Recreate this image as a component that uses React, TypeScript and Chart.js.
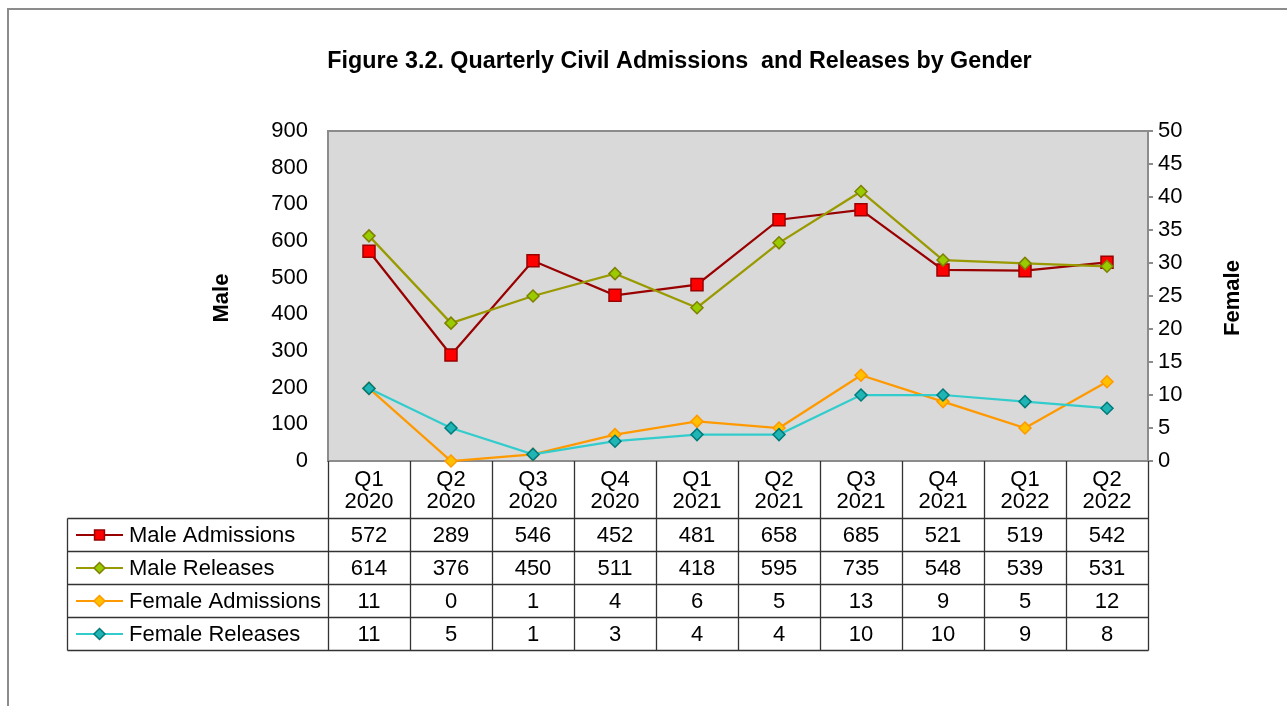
import React, { useEffect, useRef } from "react";
import { Chart, registerables } from "chart.js";

Chart.register(...registerables);

const chartTitle = "Figure 3.2. Quarterly Civil Admissions  and Releases by Gender";
const quarterLabels = ["Q1", "Q2", "Q3", "Q4", "Q1", "Q2", "Q3", "Q4", "Q1", "Q2"];
const yearLabels = ["2020", "2020", "2020", "2020", "2021", "2021", "2021", "2021", "2022", "2022"];
const maleAdmissions = [572, 289, 546, 452, 481, 658, 685, 521, 519, 542];
const maleReleases = [614, 376, 450, 511, 418, 595, 735, 548, 539, 531];
const femaleAdmissions = [11, 0, 1, 4, 6, 5, 13, 9, 5, 12];
const femaleReleases = [11, 5, 1, 3, 4, 4, 10, 10, 9, 8];
const seriesNames = ["Male Admissions", "Male Releases", "Female Admissions", "Female Releases"];
const leftAxisTitle = "Male";
const rightAxisTitle = "Female";

const FONT = "Arial, 'Liberation Sans', sans-serif";

const seriesStyles = [
  { line: "#990000", fill: "#FF0000", border: "#990000", shape: "rect", radius: 8.5 },
  { line: "#999900", fill: "#99CC00", border: "#7F7F00", shape: "rectRot", radius: 6 },
  { line: "#FF9900", fill: "#FFC000", border: "#FF9900", shape: "rectRot", radius: 6 },
  { line: "#33CCCC", fill: "#20B5B5", border: "#007A7A", shape: "rectRot", radius: 6 },
];

const seriesValues = [maleAdmissions, maleReleases, femaleAdmissions, femaleReleases];
const seriesAxes = ["y", "y", "y1", "y1"];

function drawMarker(ctx: CanvasRenderingContext2D, shape: string, x: number, y: number, r: number, fill: string, border: string) {
  ctx.save();
  ctx.beginPath();
  if (shape === "rect") {
    const s = Math.SQRT1_2 * r;
    ctx.rect(x - s, y - s, 2 * s, 2 * s);
  } else {
    ctx.moveTo(x, y - r);
    ctx.lineTo(x + r, y);
    ctx.lineTo(x, y + r);
    ctx.lineTo(x - r, y);
    ctx.closePath();
  }
  ctx.fillStyle = fill;
  ctx.fill();
  ctx.lineWidth = 1.5;
  ctx.strokeStyle = border;
  ctx.stroke();
  ctx.restore();
}

const decorPlugin = {
  id: "decor",
  beforeDraw(chart: any) {
    const { ctx, chartArea } = chart;
    ctx.save();
    ctx.fillStyle = "#FFFFFF";
    ctx.fillRect(0, 0, chart.width, chart.height);
    ctx.fillStyle = "#D9D9D9";
    ctx.fillRect(chartArea.left, chartArea.top, chartArea.right - chartArea.left, chartArea.bottom - chartArea.top);
    ctx.restore();
  },
  beforeDatasetsDraw(chart: any) {
    const { ctx, chartArea } = chart;
    ctx.save();
    ctx.strokeStyle = "#8C8C8C";
    ctx.lineWidth = 2;
    ctx.strokeRect(chartArea.left, chartArea.top, chartArea.right - chartArea.left, chartArea.bottom - chartArea.top);
    ctx.restore();
  },
  afterDraw(chart: any) {
    const { ctx, chartArea } = chart;
    const xs = chart.scales.x;
    ctx.save();
    // outer frame
    ctx.strokeStyle = "#8C8C8C";
    ctx.lineWidth = 2;
    ctx.beginPath();
    ctx.moveTo(8, chart.height + 5);
    ctx.lineTo(8, 9);
    ctx.lineTo(chart.width + 5, 9);
    ctx.stroke();

    // title
    ctx.fillStyle = "#000";
    ctx.font = `bold 23.3px ${FONT}`;
    ctx.textAlign = "center";
    ctx.textBaseline = "middle";
    ctx.fillText(chartTitle, 679.5, 62);

    // axis titles
    ctx.font = `bold 22px ${FONT}`;
    ctx.save();
    ctx.translate(222, 298);
    ctx.rotate(-Math.PI / 2);
    ctx.fillText(leftAxisTitle, 0, 0);
    ctx.restore();
    ctx.save();
    ctx.translate(1233, 298);
    ctx.rotate(-Math.PI / 2);
    ctx.fillText(rightAxisTitle, 0, 0);
    ctx.restore();

    // table
    const n = quarterLabels.length;
    const centers: number[] = [];
    for (let i = 0; i < n; i++) centers.push(xs.getPixelForValue(i));
    const bounds: number[] = [chartArea.left];
    for (let i = 1; i < n; i++) bounds.push((centers[i - 1] + centers[i]) / 2);
    bounds.push(chartArea.right);

    const headTop = chartArea.bottom;
    const rowTops = [518.5, 551.5, 584.5, 617.5];
    const rowH = 33;
    const tableBottom = rowTops[rowTops.length - 1] + rowH;
    const tableLeft = 67.5;

    ctx.strokeStyle = "#333333";
    ctx.lineWidth = 1.3;
    ctx.beginPath();
    bounds.forEach((bx) => {
      const x = Math.round(bx) + 0.5;
      ctx.moveTo(x, headTop);
      ctx.lineTo(x, tableBottom);
    });
    ctx.moveTo(tableLeft, rowTops[0]);
    ctx.lineTo(tableLeft, tableBottom);
    rowTops.concat([tableBottom]).forEach((ry) => {
      ctx.moveTo(tableLeft, ry);
      ctx.lineTo(Math.round(chartArea.right) + 0.5, ry);
    });
    ctx.stroke();

    ctx.font = `22px ${FONT}`;
    ctx.fillStyle = "#000";
    ctx.textAlign = "center";
    ctx.textBaseline = "middle";
    for (let i = 0; i < n; i++) {
      ctx.fillText(quarterLabels[i], centers[i], 480);
      ctx.fillText(yearLabels[i], centers[i], 502);
    }
    seriesValues.forEach((vals, r) => {
      const cy = rowTops[r] + rowH / 2;
      ctx.textAlign = "center";
      vals.forEach((v, i) => ctx.fillText(String(v), centers[i], cy + 1));
      const st = seriesStyles[r];
      ctx.save();
      ctx.strokeStyle = st.line;
      ctx.lineWidth = 2;
      ctx.beginPath();
      ctx.moveTo(76, cy);
      ctx.lineTo(123, cy);
      ctx.stroke();
      ctx.restore();
      drawMarker(ctx, st.shape, 99.5, cy, st.shape === "rect" ? 7 : 5.5, st.fill, st.border);
      ctx.textAlign = "left";
      ctx.fillStyle = "#000";
      ctx.fillText(seriesNames[r], 129, cy + 1);
    });
    ctx.restore();
  },
};

export default function App() {
  const ref = useRef<HTMLCanvasElement | null>(null);
  useEffect(() => {
    if (!ref.current) return;
    const chart = new Chart(ref.current, {
      type: "line",
      data: {
        labels: quarterLabels.map((q, i) => `${q} ${yearLabels[i]}`),
        datasets: seriesValues.map((vals, i) => ({
          label: seriesNames[i],
          data: vals,
          yAxisID: seriesAxes[i],
          borderColor: seriesStyles[i].line,
          borderWidth: 2.25,
          backgroundColor: seriesStyles[i].fill,
          pointBackgroundColor: seriesStyles[i].fill,
          pointBorderColor: seriesStyles[i].border,
          pointBorderWidth: 1.5,
          pointStyle: seriesStyles[i].shape as any,
          pointRadius: seriesStyles[i].radius,
          pointHoverRadius: seriesStyles[i].radius,
          tension: 0,
          fill: false,
          clip: false as any,
          order: 4 - i,
        })),
      },
      options: {
        responsive: false,
        animation: false,
        devicePixelRatio: 1,
        layout: { padding: { left: 0, right: 0, top: 131, bottom: 245 } },
        plugins: { legend: { display: false }, tooltip: { enabled: false }, title: { display: false } },
        scales: {
          x: { type: "category", offset: true, display: false },
          y: {
            position: "left",
            min: 0,
            max: 900,
            ticks: { stepSize: 100, color: "#000", font: { family: FONT, size: 22 }, padding: 12 },
            grid: { display: false },
            border: { display: false },
            afterFit: (s: any) => { s.width = 328; },
          },
          y1: {
            position: "right",
            min: 0,
            max: 50,
            ticks: { stepSize: 5, color: "#000", font: { family: FONT, size: 22 }, padding: 5 },
            grid: { display: true, drawOnChartArea: false, drawTicks: true, tickLength: 5, color: "#8C8C8C", lineWidth: 2 },
            border: { display: false },
            afterFit: (s: any) => { s.width = 139; },
          },
        },
      },
      plugins: [decorPlugin],
    });
    return () => chart.destroy();
  }, []);
  return (
    <div style={{ position: "absolute", left: 0, top: 0, width: 1287, height: 706 }}>
      <canvas ref={ref} width={1287} height={706} style={{ display: "block" }} />
    </div>
  );
}
